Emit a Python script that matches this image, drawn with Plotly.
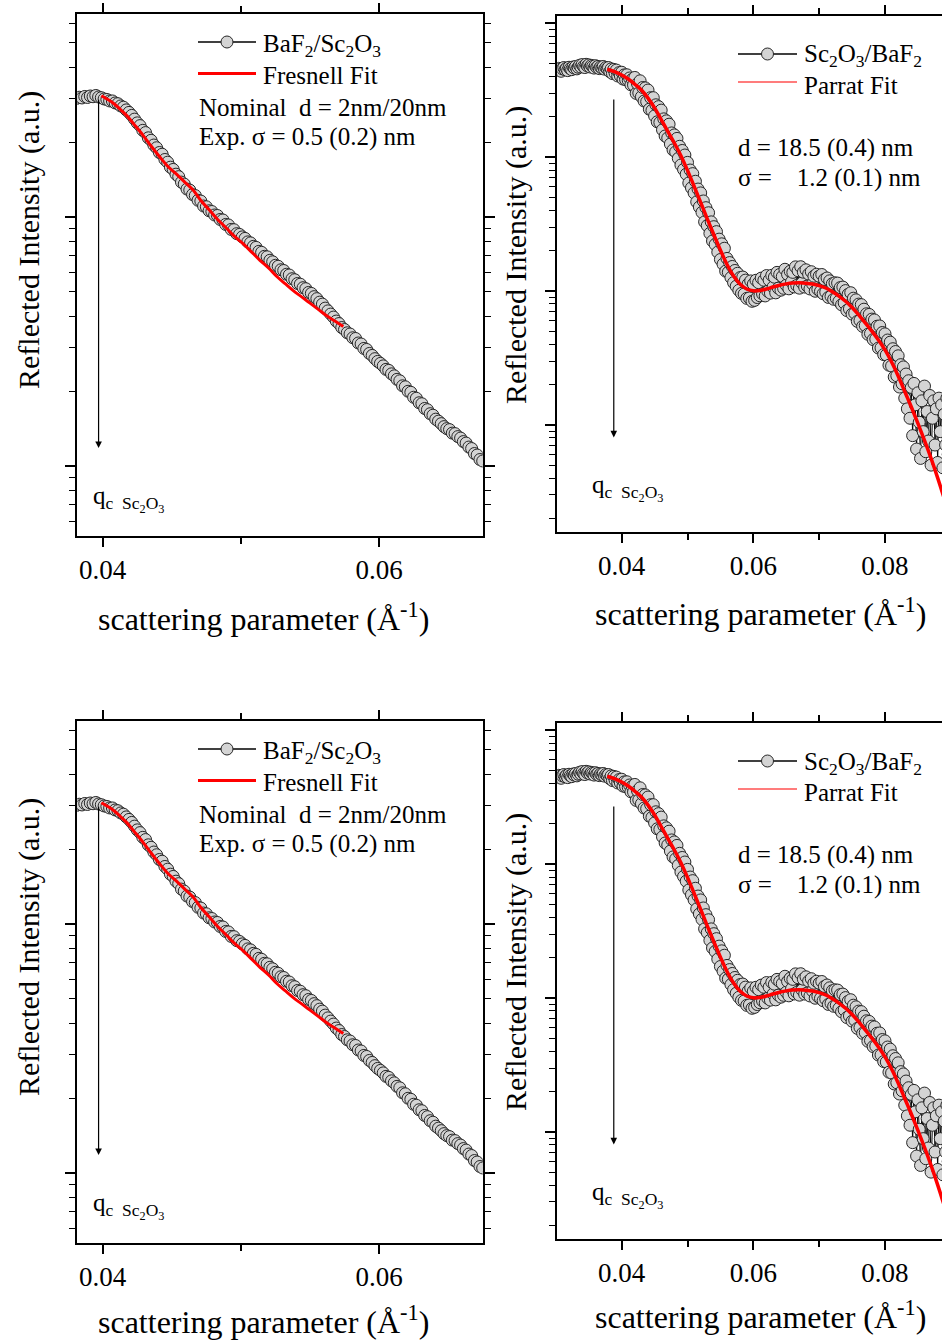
import numpy as np
import plotly.graph_objects as go

W, H = 942, 1340
ROW_SHIFT = 707
FONT = "Liberation Serif"

# ---------------- data (intensity stored as log10 of arbitrary units) ----------------
q_baf2 = [0.0381, 0.0383, 0.0385, 0.0387, 0.0389, 0.0391, 0.0393, 0.0395, 0.0397, 0.0399,
          0.0401, 0.0403, 0.0405, 0.0407, 0.0409, 0.0411, 0.0413, 0.0415, 0.0417, 0.0419,
          0.0421, 0.0423, 0.0425, 0.0427, 0.0429, 0.0431, 0.0433, 0.0435, 0.0437, 0.0439,
          0.0441, 0.0443, 0.0445, 0.0447, 0.0449, 0.0451, 0.0453, 0.0455, 0.0457, 0.0459,
          0.0461, 0.0463, 0.0465, 0.0467, 0.0469, 0.0471, 0.0473, 0.0475, 0.0477, 0.0479,
          0.0481, 0.0483, 0.0485, 0.0487, 0.0489, 0.0491, 0.0493, 0.0495, 0.0497, 0.0499,
          0.0501, 0.0503, 0.0505, 0.0507, 0.0509, 0.0511, 0.0513, 0.0515, 0.0517, 0.0519,
          0.0521, 0.0523, 0.0525, 0.0527, 0.0529, 0.0531, 0.0533, 0.0535, 0.0537, 0.0539,
          0.0541, 0.0543, 0.0545, 0.0547, 0.0549, 0.0551, 0.0553, 0.0555, 0.0557, 0.0559,
          0.0561, 0.0563, 0.0565, 0.0567, 0.0569, 0.0571, 0.0573, 0.0575, 0.0577, 0.0579,
          0.0581, 0.0583, 0.0585, 0.0587, 0.0589, 0.0591, 0.0593, 0.0595, 0.0597, 0.0599,
          0.0601, 0.0603, 0.0605, 0.0607, 0.0609, 0.0611, 0.0613, 0.0615, 0.0617, 0.0619,
          0.0621, 0.0623, 0.0625, 0.0627, 0.0629, 0.0631, 0.0633, 0.0635, 0.0637, 0.0639,
          0.0641, 0.0643, 0.0645, 0.0647, 0.0649, 0.0651, 0.0653, 0.0655, 0.0657, 0.0659,
          0.0661, 0.0663, 0.0665, 0.0667, 0.0669, 0.0671, 0.0673, 0.0675]
log_baf2 = [1.476, 1.481, 1.478, 1.484, 1.480, 1.486, 1.483, 1.488, 1.482, 1.479,
            1.474, 1.472, 1.466, 1.466, 1.458, 1.455, 1.446, 1.441, 1.430, 1.420,
            1.408, 1.393, 1.378, 1.367, 1.348, 1.339, 1.318, 1.308, 1.289, 1.278,
            1.259, 1.252, 1.231, 1.220, 1.200, 1.191, 1.172, 1.162, 1.140, 1.132,
            1.112, 1.108, 1.090, 1.086, 1.067, 1.064, 1.044, 1.041, 1.025, 1.022,
            1.008, 1.006, 0.990, 0.988, 0.970, 0.968, 0.950, 0.949, 0.933, 0.930,
            0.920, 0.914, 0.900, 0.896, 0.882, 0.878, 0.862, 0.858, 0.842, 0.840,
            0.826, 0.820, 0.806, 0.802, 0.788, 0.785, 0.770, 0.767, 0.752, 0.748,
            0.733, 0.730, 0.716, 0.712, 0.697, 0.693, 0.680, 0.672, 0.658, 0.650,
            0.634, 0.623, 0.610, 0.598, 0.582, 0.572, 0.556, 0.548, 0.535, 0.530,
            0.515, 0.512, 0.494, 0.490, 0.472, 0.468, 0.452, 0.444, 0.431, 0.420,
            0.412, 0.402, 0.388, 0.384, 0.370, 0.362, 0.348, 0.342, 0.322, 0.318,
            0.300, 0.296, 0.276, 0.272, 0.254, 0.250, 0.231, 0.226, 0.210, 0.204,
            0.188, 0.180, 0.170, 0.158, 0.150, 0.146, 0.132, 0.130, 0.118, 0.112,
            0.098, 0.092, 0.076, 0.070, 0.050, 0.044, 0.026, 0.020]

q_fresnel = [0.0399, 0.0403, 0.04075, 0.0412, 0.04172, 0.0423, 0.04292, 0.0435, 0.04413, 0.0447,
             0.04534, 0.0459, 0.04654, 0.0471, 0.04775, 0.0483, 0.04896, 0.0495, 0.05017, 0.0508,
             0.05138, 0.0520, 0.05258, 0.0532, 0.05379, 0.0544, 0.0550, 0.0556, 0.05621, 0.0568,
             0.05741]
log_fresnel = [1.487, 1.474, 1.458, 1.436, 1.408, 1.370, 1.328, 1.285, 1.241, 1.204,
               1.172, 1.142, 1.108, 1.066, 1.026, 0.991, 0.955, 0.924, 0.892, 0.858,
               0.826, 0.795, 0.762, 0.732, 0.704, 0.679, 0.654, 0.629, 0.603, 0.582,
               0.560]

q_sc2o3 = [0.0302, 0.0304, 0.0306, 0.0308, 0.0310, 0.0312, 0.0314, 0.0316, 0.0318, 0.0320,
           0.0322, 0.0324, 0.0326, 0.0328, 0.0330, 0.0332, 0.0334, 0.0336, 0.0338, 0.0340,
           0.0342, 0.0344, 0.0346, 0.0348, 0.0350, 0.0352, 0.0354, 0.0356, 0.0358, 0.0360,
           0.0362, 0.0364, 0.0366, 0.0368, 0.0370, 0.0372, 0.0374, 0.0376, 0.0378,
           0.0380, 0.0382, 0.0384, 0.0386, 0.0388, 0.0390, 0.0392, 0.0394, 0.0396, 0.0398,
           0.0400, 0.0402, 0.0404, 0.0406, 0.0408, 0.0410, 0.0412, 0.0414, 0.0416, 0.0418,
           0.0420, 0.0422, 0.0424, 0.0426, 0.0428, 0.0430, 0.0432, 0.0434, 0.0436, 0.0438,
           0.0440, 0.0442, 0.0444, 0.0446, 0.0448, 0.0450, 0.0452, 0.0454, 0.0456, 0.0458,
           0.0460, 0.0462, 0.0464, 0.0466, 0.0468, 0.0470, 0.0472, 0.0474, 0.0476, 0.0478,
           0.0480, 0.0482, 0.0484, 0.0486, 0.0488, 0.0490, 0.0492, 0.0494, 0.0496, 0.0498,
           0.0500, 0.0502, 0.0504, 0.0506, 0.0508, 0.0510, 0.0512, 0.0514, 0.0516, 0.0518,
           0.0520, 0.0522, 0.0524, 0.0526, 0.0528, 0.0530, 0.0532, 0.0534, 0.0536, 0.0538,
           0.0540, 0.0542, 0.0544, 0.0546, 0.0548, 0.0550, 0.0552, 0.0554, 0.0556, 0.0558,
           0.0560, 0.0562, 0.0564, 0.0566, 0.0568, 0.0570, 0.0572, 0.0574, 0.0576, 0.0578,
           0.0580, 0.0582, 0.0584, 0.0586, 0.0588, 0.0590, 0.0592, 0.0594, 0.0596, 0.0598,
           0.0600, 0.0602, 0.0604, 0.0606, 0.0608, 0.0610, 0.0612, 0.0614, 0.0616, 0.0618,
           0.0620, 0.0622, 0.0624, 0.0626, 0.0628, 0.0630, 0.0632, 0.0634, 0.0636, 0.0638,
           0.0640, 0.0642, 0.0644, 0.0646, 0.0648, 0.0650, 0.0652, 0.0654, 0.0656, 0.0658,
           0.0660, 0.0662, 0.0664, 0.0666, 0.0668, 0.0670, 0.0672, 0.0674, 0.0676, 0.0678,
           0.0680, 0.0682, 0.0684, 0.0686, 0.0688, 0.0690, 0.0692, 0.0694, 0.0696, 0.0698,
           0.0700, 0.0702, 0.0704, 0.0706, 0.0708, 0.0710, 0.0712, 0.0714, 0.0716, 0.0718,
           0.0720,
           0.0722, 0.0724, 0.0726, 0.0728, 0.0730, 0.0732, 0.0734, 0.0736, 0.0738, 0.0740,
           0.0742, 0.0744, 0.0746, 0.0748, 0.0750, 0.0752, 0.0754, 0.0756, 0.0758, 0.0760,
           0.0762, 0.0764, 0.0766, 0.0768, 0.0770, 0.0772, 0.0774, 0.0776, 0.0778, 0.0780,
           0.0782, 0.0784, 0.0786, 0.0788, 0.0790, 0.0792, 0.0794, 0.0796, 0.0798, 0.0800,
           0.0802, 0.0804, 0.0806, 0.0808, 0.0810, 0.0812, 0.0814, 0.0816, 0.0818, 0.0820,
           0.0822, 0.0824, 0.0826, 0.0828, 0.0830,
           0.0832, 0.0834, 0.0836, 0.0838, 0.0840, 0.0842, 0.0844, 0.0846, 0.0848, 0.0850,
           0.0852, 0.0854, 0.0856, 0.0858, 0.0860, 0.0862, 0.0864, 0.0866, 0.0868, 0.0870,
           0.0872, 0.0874, 0.0876, 0.0878, 0.0880, 0.0882, 0.0884, 0.0886, 0.0888, 0.0890,
           0.0892, 0.0894, 0.0896, 0.0898]
log_sc2o3 = [2.648, 2.662, 2.655, 2.640, 2.658, 2.668, 2.652, 2.662, 2.645, 2.670,
             2.660, 2.652, 2.672, 2.664, 2.676, 2.658, 2.670, 2.685, 2.672, 2.690,
             2.676, 2.668, 2.692, 2.680, 2.688, 2.672, 2.684, 2.676, 2.664, 2.682,
             2.670, 2.676, 2.660, 2.672, 2.664, 2.676, 2.656, 2.668, 2.660,
             2.668, 2.637, 2.658, 2.623, 2.654, 2.625, 2.649, 2.605, 2.630, 2.606,
             2.633, 2.582, 2.613, 2.577, 2.614, 2.572, 2.590, 2.539, 2.580, 2.537,
             2.594, 2.475, 2.547, 2.478, 2.569, 2.450, 2.519, 2.418, 2.516, 2.413,
             2.500, 2.357, 2.443, 2.348, 2.443, 2.307, 2.390, 2.263, 2.376, 2.258,
             2.350, 2.203, 2.285, 2.157, 2.270, 2.142, 2.245, 2.097, 2.180, 2.053,
             2.165, 2.038, 2.139, 1.990, 2.080, 1.940, 2.049, 1.907, 2.015, 1.872,
             1.960, 1.806, 1.903, 1.770, 1.876, 1.732, 1.819, 1.665, 1.761, 1.627,
             1.732, 1.587, 1.672, 1.516, 1.622, 1.488, 1.584, 1.430, 1.516, 1.373,
             1.480, 1.347, 1.443, 1.290, 1.387, 1.235, 1.352, 1.200, 1.319, 1.148,
             1.243, 1.140, 1.212, 1.100, 1.183, 1.062, 1.153, 1.035, 1.132, 1.005,
             1.100, 0.982, 1.104, 0.977, 1.081, 0.945, 1.051, 0.948, 1.075, 0.923,
             1.051, 0.930, 1.080, 0.951, 1.062, 0.964, 1.096, 0.978, 1.080, 0.963,
             1.115, 0.998, 1.081, 0.984, 1.117, 1.030, 1.103, 0.986, 1.139, 1.021,
             1.123, 1.006, 1.108, 1.020, 1.162, 1.043, 1.124, 1.016, 1.147, 1.068,
             1.139, 1.030, 1.180, 1.041, 1.151, 1.021, 1.181, 1.060, 1.140, 1.029,
             1.158, 1.037, 1.126, 1.015, 1.144, 1.052, 1.110, 0.998, 1.125, 1.013,
             1.110, 0.997, 1.123, 0.980, 1.086, 0.992, 1.097, 0.952, 1.076, 0.960,
             1.054,
             0.938, 1.061, 0.945, 1.059, 0.922, 1.025, 0.897, 1.029, 0.911, 1.003,
             0.854, 0.975, 0.866, 0.987, 0.827, 0.946, 0.835, 0.934, 0.773, 0.902,
             0.780, 0.898, 0.736, 0.864, 0.742, 0.830, 0.677, 0.825, 0.682, 0.790,
             0.637, 0.784, 0.641, 0.737, 0.574, 0.739, 0.575, 0.690, 0.525, 0.680,
             0.522, 0.634, 0.446, 0.618, 0.440, 0.569, 0.358, 0.548, 0.367, 0.516,
             0.283, 0.450, 0.307, 0.433, 0.200,
             0.380, 0.120, 0.330, 0.050, 0.280, -0.080, 0.310, 0.150, -0.180, 0.240,
             0.020, -0.250, 0.180, -0.050, 0.290, -0.200, 0.100, -0.120, 0.220, -0.300,
             0.050, 0.180, -0.150, 0.120, -0.280, 0.200, -0.050, 0.150, -0.320, 0.080,
             -0.150, 0.200, -0.220, 0.050]

q_parratt = [0.0378, 0.0390, 0.0400, 0.0410, 0.0420, 0.0430, 0.0440, 0.0450, 0.0460, 0.0470,
             0.0480, 0.0490, 0.0500, 0.0510, 0.0520, 0.0530, 0.0540, 0.0550, 0.0560, 0.0570,
             0.0580, 0.0590, 0.0600, 0.0610, 0.0620, 0.0630, 0.0640, 0.0650, 0.0660, 0.0670,
             0.0680, 0.0690, 0.0700, 0.0710, 0.0720, 0.0730, 0.0740, 0.0750, 0.0760, 0.0770,
             0.0780, 0.0790, 0.0800, 0.0810, 0.0820, 0.0830, 0.0840, 0.0850, 0.0860, 0.0870,
             0.0880, 0.0890, 0.0898]
log_parratt = [2.655, 2.635, 2.612, 2.582, 2.543, 2.500, 2.440, 2.367, 2.280, 2.192,
               2.105, 2.010, 1.900, 1.782, 1.662, 1.538, 1.420, 1.305, 1.198, 1.112,
               1.050, 1.015, 1.001, 1.004, 1.015, 1.030, 1.043, 1.053, 1.059, 1.061,
               1.058, 1.052, 1.040, 1.022, 0.994, 0.962, 0.923, 0.877, 0.822, 0.762,
               0.700, 0.634, 0.560, 0.470, 0.366, 0.250, 0.134, 0.012, -0.116, -0.250,
               -0.395, -0.550, -0.680]

for _a, _b in [(q_baf2, log_baf2), (q_fresnel, log_fresnel),
               (q_sc2o3, log_sc2o3), (q_parratt, log_parratt)]:
    if len(_a) != len(_b):
        raise ValueError(f"length mismatch {len(_a)} vs {len(_b)}")

x_ticklabel_step = 0.02
x_minor_step = 0.01


# ---------------- geometry helpers (pixels -> paper) ----------------
def fx(x):
    return x / W


def fy(y):
    return 1 - y / H


LEFT = dict(xpx=(77.3, 482.7), ypx=(14.3, 535.7), xr=[0.03816, 0.0675], yr=[-0.28, 1.814])
RIGHT = dict(xpx=(557.3, 942.0), ypx=(16.1, 532.1), xr=[0.03022, 0.08866], yr=[-0.80, 3.052])

panels = [("", "L", 0), ("2", "R", 0), ("3", "L", ROW_SHIFT), ("4", "R", ROW_SHIFT)]

fig = go.Figure()
layout_axes = {}
shapes = []
annotations = []

tickfont = dict(family=FONT, size=27, color="black")


def txt(x, y, text, size=25, xanchor="left", yanchor="middle", angle=0):
    annotations.append(dict(xref="paper", yref="paper", x=fx(x), y=fy(y), text=text,
                            showarrow=False, xanchor=xanchor, yanchor=yanchor,
                            textangle=angle, font=dict(family=FONT, size=size, color="black")))


for s, kind, dy in panels:
    g = LEFT if kind == "L" else RIGHT
    xname = "x" + s
    yname = "y" + s
    xd = [fx(g["xpx"][0]), min(1.0, fx(g["xpx"][1]))]
    yd = [fy(g["ypx"][1] + dy), fy(g["ypx"][0] + dy)]
    layout_axes["xaxis" + s] = dict(
        domain=xd, range=g["xr"], anchor=yname, showline=True, linecolor="black", linewidth=1.8,
        mirror="ticks", ticks="outside", ticklen=9, tickwidth=1.5, tickcolor="black",
        tick0=0.04, dtick=x_ticklabel_step, tickformat=".2f", tickfont=tickfont,
        minor=dict(ticks="outside", ticklen=6, tickwidth=1.5, tickcolor="black",
                   tick0=0.04, dtick=x_minor_step, showgrid=False),
        showgrid=False, zeroline=False, fixedrange=True)
    layout_axes["yaxis" + s] = dict(
        domain=yd, range=g["yr"], type="log", anchor=xname, showline=True, linecolor="black",
        linewidth=1.8, mirror="ticks" if kind == "L" else False, ticks="outside", ticklen=10,
        tickwidth=1.5, tickcolor="black", dtick=1, showticklabels=False,
        minor=dict(ticks="outside", ticklen=6, tickwidth=1.3, tickcolor="black", dtick="D1",
                   showgrid=False),
        showgrid=False, zeroline=False, fixedrange=True)

    if kind == "L":
        qd, ld, qf, lf = q_baf2, log_baf2, q_fresnel, log_fresnel
        fitw = 3
    else:
        qd, ld, qf, lf = q_sc2o3, log_sc2o3, q_parratt, log_parratt
        fitw = 3.5
    fig.add_trace(go.Scatter(
        x=qd, y=10 ** np.array(ld), mode="lines+markers", xaxis=xname, yaxis=yname,
        line=dict(color="black", width=1),
        marker=dict(symbol="circle", size=12, color="#d4d4d4", line=dict(color="#262626", width=1)),
        showlegend=False, hoverinfo="skip"))
    fig.add_trace(go.Scatter(
        x=qf, y=10 ** np.array(lf), mode="lines", xaxis=xname, yaxis=yname,
        line=dict(color="#ff0000", width=fitw, shape="spline"), showlegend=False, hoverinfo="skip"))

    # critical-q arrow
    if kind == "L":
        ax_q, y_top, y_tip = 0.0397, 1.477, 0.072
    else:
        ax_q, y_top, y_tip = 0.0388, 2.44, -0.093
    annotations.append(dict(xref=xname, yref=yname, axref=xname, ayref=yname,
                            x=ax_q, y=y_tip, ax=ax_q, ay=y_top, text="", showarrow=True,
                            arrowhead=2, arrowsize=1.1, arrowwidth=1.2, arrowcolor="black",
                            standoff=0, startstandoff=0))

    qc_label = "q<sub>c&nbsp;&nbsp;Sc<sub>2</sub>O<sub>3</sub></sub>"
    title_dy = dy - (4 if dy else 0)
    if kind == "L":
        shapes.append(dict(type="line", xref="paper", yref="paper", x0=fx(198), x1=fx(256),
                           y0=fy(42 + dy), y1=fy(42 + dy), line=dict(color="black", width=1.3)))
        shapes.append(dict(type="circle", xref="paper", yref="paper", x0=fx(221), x1=fx(233),
                           y0=fy(48 + dy), y1=fy(36 + dy), fillcolor="#d4d4d4",
                           line=dict(color="#262626", width=1)))
        shapes.append(dict(type="line", xref="paper", yref="paper", x0=fx(198), x1=fx(256),
                           y0=fy(73.5 + dy), y1=fy(73.5 + dy), line=dict(color="#ff0000", width=3)))
        txt(261, 45 + dy, "BaF<sub>2</sub>/Sc<sub>2</sub>O<sub>3</sub>")
        txt(261, 75 + dy, "Fresnell Fit")
        txt(197, 107 + dy, "Nominal&nbsp; d = 2nm/20nm")
        txt(197, 137 + dy, "Exp. σ = 0.5 (0.2) nm")
        txt(91, 499 + dy, qc_label, size=25)
        txt(263, 617 + title_dy, "scattering parameter (Å<sup>-1</sup>)", size=32, xanchor="center")
        txt(29, 240 + dy, "Reflected Intensity (a.u.)", size=30, xanchor="center", angle=-90)
    else:
        shapes.append(dict(type="line", xref="paper", yref="paper", x0=fx(738), x1=fx(797),
                           y0=fy(54 + dy), y1=fy(54 + dy), line=dict(color="black", width=1.3)))
        shapes.append(dict(type="circle", xref="paper", yref="paper", x0=fx(761.5), x1=fx(773.5),
                           y0=fy(60 + dy), y1=fy(48 + dy), fillcolor="#d4d4d4",
                           line=dict(color="#262626", width=1)))
        shapes.append(dict(type="line", xref="paper", yref="paper", x0=fx(738), x1=fx(797),
                           y0=fy(82 + dy), y1=fy(82 + dy), line=dict(color="#ff5050", width=1.5)))
        txt(802, 56 + dy, "Sc<sub>2</sub>O<sub>3</sub>/BaF<sub>2</sub>")
        txt(802, 85 + dy, "Parrat Fit")
        txt(736, 148 + dy, "d = 18.5 (0.4) nm")
        txt(736, 178 + dy, "σ =&nbsp;&nbsp;&nbsp; 1.2 (0.1) nm")
        txt(590, 488 + dy, qc_label, size=25)
        txt(760, 612 + title_dy, "scattering parameter (Å<sup>-1</sup>)", size=32, xanchor="center")
        txt(516, 255 + dy, "Reflected Intensity (a.u.)", size=30, xanchor="center", angle=-90)

fig.update_layout(
    width=W, height=H, margin=dict(l=0, r=0, t=0, b=0, pad=0),
    paper_bgcolor="white", plot_bgcolor="white", showlegend=False,
    font=dict(family=FONT, color="black"),
    shapes=shapes, annotations=annotations, **layout_axes)

fig.write_html("out.html")
